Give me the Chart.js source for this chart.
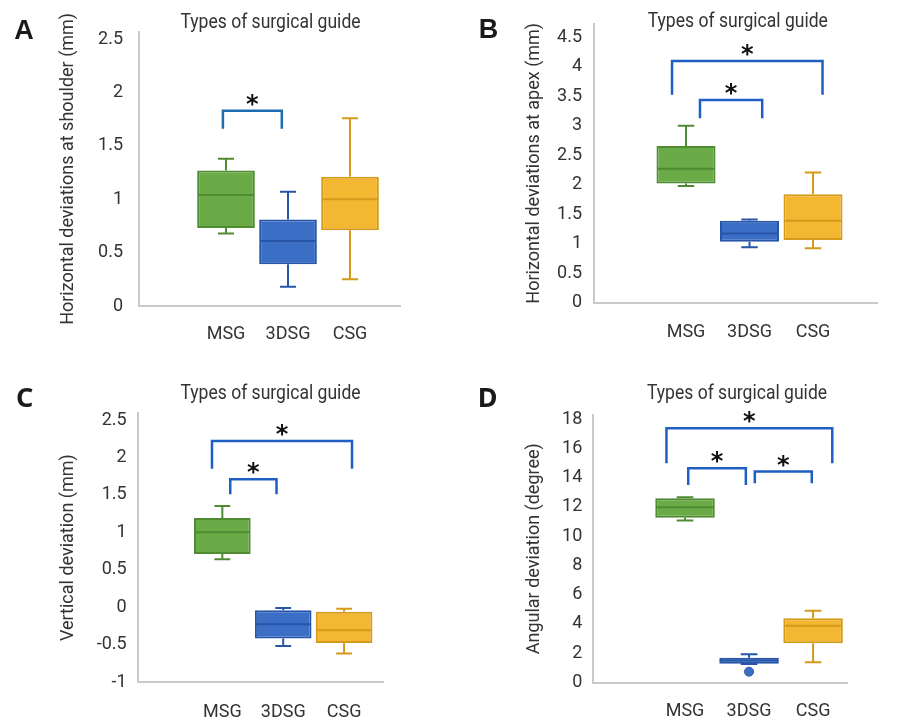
<!DOCTYPE html>
<html>
<head>
<meta charset="utf-8">
<script src="https://cdn.jsdelivr.net/npm/chart.js@4.4.1/dist/chart.umd.min.js"></script>
<style>
  html, body { margin: 0; padding: 0; background: #fff; }
  #fig { position: relative; width: 898px; height: 718px; }
  canvas { position: absolute; }
</style>
</head>
<body>
<div id="fig">
  <canvas id="chartA" width="449" height="350" style="left:0;top:0"></canvas>
  <canvas id="chartB" width="449" height="350" style="left:449px;top:0"></canvas>
  <canvas id="chartC" width="449" height="368" style="left:0;top:350px"></canvas>
  <canvas id="chartD" width="449" height="368" style="left:449px;top:350px"></canvas>
</div>
<script>
// ---- Data ----
const groups = ["MSG", "3DSG", "CSG"];

// box stats per group: [min, q1, median, q3, max]
const shoulderStats = [
  [0.68, 0.73, 1.04, 1.27, 1.38],
  [0.18, 0.39, 0.61, 0.81, 1.07],
  [0.25, 0.71, 1.00, 1.21, 1.76]
];
const apexStats = [
  [1.98, 2.02, 2.27, 2.66, 3.00],
  [0.94, 1.03, 1.17, 1.39, 1.41],
  [0.92, 1.06, 1.39, 1.84, 2.21]
];
const verticalStats = [
  [0.64, 0.71, 1.00, 1.19, 1.35],
  [-0.52, -0.42, -0.23, -0.04, -0.01],
  [-0.62, -0.48, -0.31, -0.06, -0.02]
];
const angularStats = [
  [11.07, 11.27, 11.98, 12.60, 12.67],
  [1.26, 1.28, 1.50, 1.69, 1.93],
  [1.38, 2.68, 3.88, 4.39, 4.91]
];
// outliers: [group position, value]
const angularOutliers = [[2, 0.74]];

// significance brackets: [from, to, top, leg end] (group position / value)
const shoulderBrackets = [[0.95, 1.90, 1.83, 1.66]];
const apexBrackets = [[0.78, 3.15, 4.10, 3.53], [1.22, 2.20, 3.44, 3.13]];
const verticalBrackets = [[0.83, 3.13, 2.22, 1.85], [1.13, 1.89, 1.71, 1.51]];
const angularBrackets = [[0.71, 3.30, 17.39, 14.99], [1.05, 1.95, 14.65, 13.51], [2.09, 2.98, 14.42, 13.62]];

// y tick labels
const shoulderTicks = [0, 0.5, 1, 1.5, 2, 2.5];
const apexTicks = [0, 0.5, 1, 1.5, 2, 2.5, 3, 3.5, 4, 4.5];
const verticalTicks = [-1, -0.5, 0, 0.5, 1, 1.5, 2, 2.5];
const angularTicks = [0, 2, 4, 6, 8, 10, 12, 14, 16, 18];

// ---- Styles ----
const boxFill = ["#6aab47", "#3b6fc6", "#f4b731"];
const boxLine = ["#4e8b33", "#2756a8", "#d39a1b"];
const axisColor = "#c9c9c9";
const textColor = "#333333";
const titleText = "Types of surgical guide";

const panels = [
  {
    id: "chartA", letter: "A", letterFont: 'bold 27px "Liberation Sans"', letterX: 24, letterY: 39.3,
    titleX: 270.5, titleY: 27.5, yTitle: "Horizontal deviations at shoulder (mm)",
    stats: shoulderStats, brackets: shoulderBrackets, outliers: [], ticks: shoulderTicks,
    yMin: 0, yMax: 2.57, xMin: -0.403, xMax: 3.806,
    pad: { left: 57.2, right: 49, top: 31.7, bottom: 0 }, yWidth: 81.8, xHeight: 44,
    yTickPad: 16, xTickPad: 18, bracketColor: "#1d6cb2"
  },
  {
    id: "chartB", letter: "B", letterFont: 'bold 27px "Liberation Sans"', letterX: 39.5, letterY: 38.3,
    titleX: 288.8, titleY: 26.7, yTitle: "Horizontal deviations at apex (mm)",
    stats: apexStats, brackets: apexBrackets, outliers: [], ticks: apexTicks,
    yMin: 0, yMax: 4.73, xMin: -0.449, xMax: 4.008,
    pad: { left: 74.2, right: 21, top: 24, bottom: 0 }, yWidth: 70.8, xHeight: 47.5,
    yTickPad: 12, xTickPad: 19.5, bracketColor: "#1f5ec2"
  },
  {
    id: "chartC", letter: "C", letterFont: 'bold 27px "Noto Sans"', letterX: 24.7, letterY: 56.7,
    titleX: 270.5, titleY: 49.3, yTitle: "Vertical deviation (mm)",
    stats: verticalStats, brackets: verticalBrackets, outliers: [], ticks: verticalTicks,
    yMin: -1, yMax: 2.59, xMin: -0.39, xMax: 3.639,
    pad: { left: 57.5, right: 66, top: 63.3, bottom: 0 }, yWidth: 80.2, xHeight: 36,
    yTickPad: 11, xTickPad: 19.5, bracketColor: "#1f5ec2"
  },
  {
    id: "chartD", letter: "D", letterFont: 'bold 27px "Noto Sans"', letterX: 38.7, letterY: 56.7,
    titleX: 288, titleY: 49.3, yTitle: "Angular deviation (degree)",
    stats: angularStats, brackets: angularBrackets, outliers: angularOutliers, ticks: angularTicks,
    yMin: 0, yMax: 18.29, xMin: -0.4375, xMax: 3.53,
    pad: { left: 74.2, right: 51, top: 65, bottom: 0 }, yWidth: 69.8, xHeight: 35.5,
    yTickPad: 10.7, xTickPad: 18, bracketColor: "#1f5ec2"
  }
];

// whiskers, medians, outliers, brackets and panel texts
function boxExtras(p) {
  return {
    id: "boxExtras",
    afterDatasetsDraw(chart) {
      const { ctx, scales: { x, y } } = chart;
      const bars = chart.getDatasetMeta(0).data;
      const cap = x.getPixelForValue(1.13) - x.getPixelForValue(1);
      ctx.save();
      ctx.lineWidth = 2;
      p.stats.forEach((s, i) => {
        const cx = x.getPixelForValue(i + 1);
        const half = bars[i].width / 2 - 1;
        const yMin = y.getPixelForValue(s[0]);
        const yQ1 = y.getPixelForValue(s[1]);
        const yMed = y.getPixelForValue(s[2]);
        const yQ3 = y.getPixelForValue(s[3]);
        const yMax = y.getPixelForValue(s[4]);
        ctx.strokeStyle = boxLine[i];
        ctx.beginPath();
        ctx.moveTo(cx, yQ3); ctx.lineTo(cx, yMax);
        ctx.moveTo(cx - cap, yMax); ctx.lineTo(cx + cap, yMax);
        ctx.moveTo(cx, yQ1); ctx.lineTo(cx, yMin);
        ctx.moveTo(cx - cap, yMin); ctx.lineTo(cx + cap, yMin);
        ctx.moveTo(cx - half, yMed); ctx.lineTo(cx + half, yMed);
        ctx.stroke();
      });
      p.outliers.forEach(o => {
        const i = o[0] - 1;
        ctx.beginPath();
        ctx.arc(x.getPixelForValue(o[0]), y.getPixelForValue(o[1]), 4.5, 0, Math.PI * 2);
        ctx.fillStyle = boxFill[i];
        ctx.fill();
        ctx.lineWidth = 1;
        ctx.strokeStyle = boxLine[i];
        ctx.stroke();
      });
      ctx.lineWidth = 2.5;
      ctx.strokeStyle = p.bracketColor;
      ctx.font = 'bold 24px "DejaVu Sans"';
      ctx.textAlign = "center";
      ctx.textBaseline = "alphabetic";
      ctx.fillStyle = "#111";
      p.brackets.forEach(b => {
        const x1 = x.getPixelForValue(b[0]);
        const x2 = x.getPixelForValue(b[1]);
        const yTop = y.getPixelForValue(b[2]);
        const yEnd = y.getPixelForValue(b[3]);
        ctx.beginPath();
        ctx.moveTo(x1, yEnd); ctx.lineTo(x1, yTop);
        ctx.lineTo(x2, yTop); ctx.lineTo(x2, yEnd);
        ctx.stroke();
        const m = ctx.measureText("*");
        const off = (m.actualBoundingBoxDescent - m.actualBoundingBoxAscent) / 2;
        ctx.fillText("*", (x1 + x2) / 2, yTop - 11 - off);
      });
      ctx.restore();
    },
    afterDraw(chart) {
      const ctx = chart.ctx;
      ctx.save();
      ctx.textAlign = "center";
      ctx.textBaseline = "alphabetic";
      ctx.fillStyle = "#1a1a1a";
      ctx.font = p.letterFont;
      ctx.fillText(p.letter, p.letterX, p.letterY);
      // the figure title is set in a narrow face; squeeze Roboto a little
      ctx.fillStyle = textColor;
      ctx.font = "19.5px Roboto";
      ctx.translate(p.titleX, p.titleY);
      ctx.scale(0.9, 1);
      ctx.fillText(titleText, 0, 0);
      ctx.restore();
    }
  };
}

function makeChart(p) {
  const ctx = document.getElementById(p.id).getContext("2d");
  return new Chart(ctx, {
    type: "bar",
    data: {
      datasets: [{
        data: p.stats.map((s, i) => ({ x: i + 1, y: [s[1], s[3]] })),
        backgroundColor: boxFill,
        borderColor: boxLine,
        borderWidth: 2,
        borderSkipped: false,
        barPercentage: 0.93,
        categoryPercentage: 1
      }]
    },
    options: {
      responsive: false,
      animation: false,
      layout: { padding: p.pad },
      plugins: {
        legend: { display: false },
        tooltip: { enabled: false }
      },
      scales: {
        x: {
          type: "linear",
          offset: false,
          min: p.xMin,
          max: p.xMax,
          bounds: "data",
          grid: { display: false, drawTicks: false },
          border: { color: axisColor, width: 2 },
          ticks: {
            padding: p.xTickPad,
            color: textColor,
            font: { family: "Roboto", size: 18 },
            callback: v => groups[v - 1] || ""
          },
          afterBuildTicks: s => { s.ticks = groups.map((g, i) => ({ value: i + 1 })); },
          afterFit: s => { s.height = p.xHeight; s.paddingLeft = 0; s.paddingRight = 0; }
        },
        y: {
          min: p.yMin,
          max: p.yMax,
          bounds: "data",
          grid: { display: false, drawTicks: false },
          border: { color: axisColor, width: 2 },
          ticks: {
            padding: p.yTickPad,
            color: textColor,
            font: { family: "Roboto", size: 18 },
            callback: v => String(v)
          },
          title: {
            display: true,
            text: p.yTitle,
            color: textColor,
            padding: 0,
            font: { family: "Roboto", size: 18 }
          },
          afterBuildTicks: s => { s.ticks = p.ticks.map(v => ({ value: v })); },
          afterFit: s => { s.width = p.yWidth; s.paddingTop = 0; s.paddingBottom = 0; }
        }
      }
    },
    plugins: [boxExtras(p)]
  });
}

panels.forEach(makeChart);
</script>
</body>
</html>
